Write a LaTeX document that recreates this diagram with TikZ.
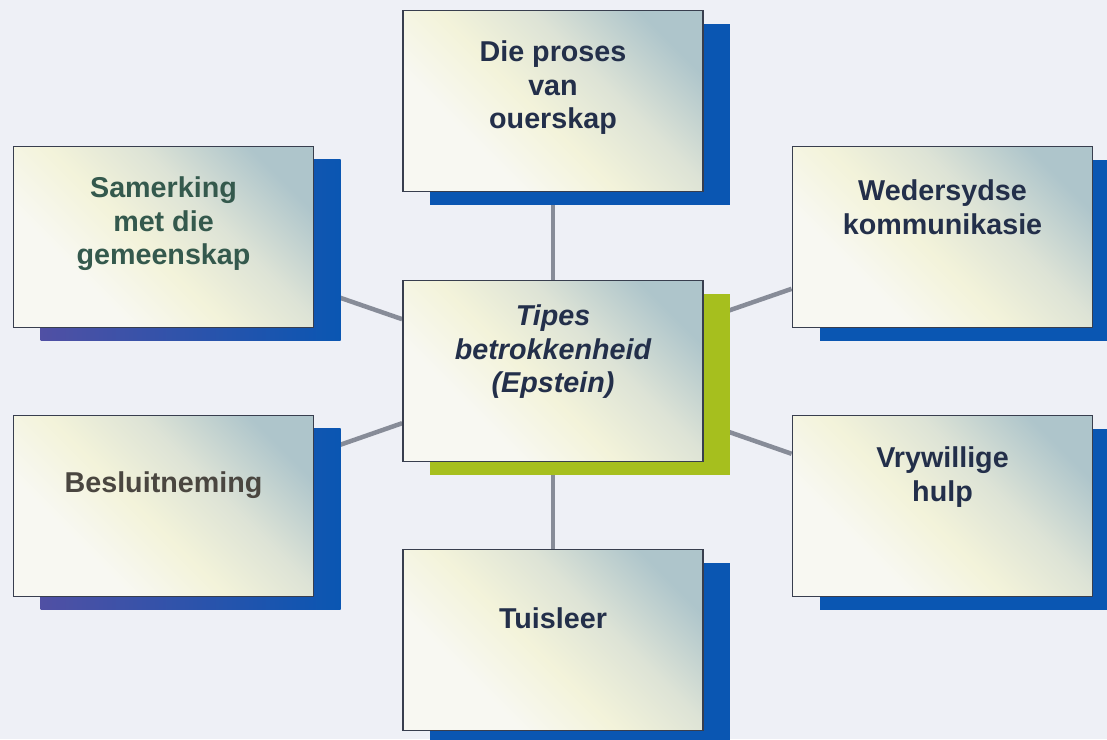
\documentclass[tikz,border=0pt]{standalone}
\usepackage{fontspec}
\setmainfont{Liberation Sans}
\usetikzlibrary{shadows,backgrounds}

\definecolor{pagebg}{HTML}{EEF0F6}
\definecolor{boxline}{HTML}{383E4E}
\definecolor{linkgrey}{HTML}{878C98}
\definecolor{shadowblue}{HTML}{0A56B2}
\definecolor{shadowpurple}{HTML}{5050A4}
\definecolor{shadowgreen}{HTML}{A6BF1E}
\definecolor{textnavy}{HTML}{232F4A}
\definecolor{textgreen}{HTML}{34594D}
\definecolor{textbrown}{HTML}{4A4640}
\definecolor{shadeA}{HTML}{F8F8F2}
\definecolor{shadeB}{HTML}{F3F3DA}
\definecolor{shadeC}{HTML}{DDE3D6}
\definecolor{shadeD}{HTML}{AEC5CB}
\pgfdeclareverticalshading{boxshade}{100bp}{color(0bp)=(shadeA); color(32bp)=(shadeA);
  color(46bp)=(shadeB); color(60bp)=(shadeC); color(76bp)=(shadeD); color(100bp)=(shadeD)}

\tikzset{
  box/.style={draw=boxline, line width=1.8pt, shading=boxshade, shading angle=-45,
    minimum width=300pt, minimum height=181pt, inner sep=0pt,
    general shadow={shadow xshift=27pt, shadow yshift=-13pt, #1}},
  box/.default={fill=shadowblue},
  boxtext/.style={font=\bfseries\fontsize{28.7}{33.5}\selectfont, text=textnavy, align=center},
  link/.style={linkgrey, line width=4.5pt}
}

\begin{document}
\begin{tikzpicture}[x=1pt,y=-1pt]
  \useasboundingbox (0,0) rectangle (1107,739);
  % centre and the six topics round it
  \node[box={fill=shadowgreen},
    label={[boxtext, font=\bfseries\itshape\fontsize{28.7}{33.5}\selectfont, yshift=19pt]center:{Tipes\\betrokkenheid\\(Epstein)}}]
    (ctr) at (553,371) {};
  \node[box, label={[boxtext, yshift=13pt]center:{Die proses\\van\\ouerskap}}] (top) at (553,101) {};
  \node[box={left color=shadowpurple, middle color=shadowblue, right color=shadowblue},
    label={[boxtext, text=textgreen, yshift=13pt]center:{Samerking\\met die\\gemeenskap}}] (lt) at (163.5,237) {};
  \node[box, label={[boxtext, yshift=30pt]center:{Wedersydse\\kommunikasie}}] (rt) at (942.5,237) {};
  \node[box={left color=shadowpurple, middle color=shadowblue, right color=shadowblue},
    label={[boxtext, text=textbrown, yshift=21pt]center:{Besluitneming}}] (lb) at (163.5,506) {};
  \node[box, label={[boxtext, yshift=29pt]center:{Vrywillige\\hulp}}] (rb) at (942.5,506) {};
  \node[box, label={[boxtext, yshift=22pt]center:{Tuisleer}}] (bot) at (553,640) {};
  \begin{scope}[on background layer]
    \fill[pagebg] (0,0) rectangle (1107,739);
    \draw[link] (ctr) -- (top);
    \draw[link] (ctr) -- (bot);
    \draw[link] (ctr) -- (lt);
    \draw[link] (ctr) -- (rt);
    \draw[link] (ctr) -- (lb);
    \draw[link] (ctr) -- (rb);
  \end{scope}
\end{tikzpicture}
\end{document}
